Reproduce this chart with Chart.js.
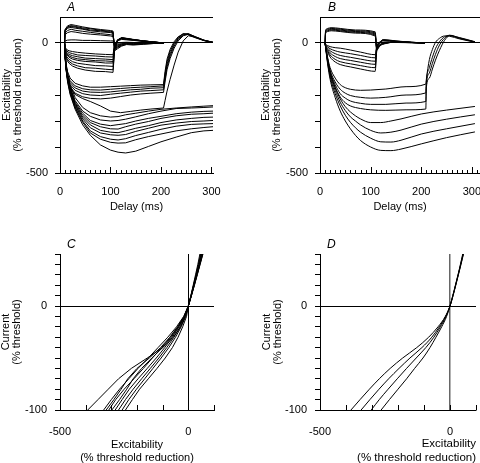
<!DOCTYPE html>
<html>
<head>
<meta charset="utf-8">
<script src="https://cdn.jsdelivr.net/npm/chart.js@4.4.1/dist/chart.umd.min.js"></script>
<style>
  body { margin: 0; background: #fff; width: 480px; height: 463px; overflow: hidden; position: relative; }
  canvas { position: absolute; }
</style>
</head>
<body>
<canvas id="chartA" width="240" height="225" style="left:0;top:0"></canvas>
<canvas id="chartB" width="240" height="225" style="left:240px;top:0"></canvas>
<canvas id="chartC" width="240" height="230" style="left:0;top:237px"></canvas>
<canvas id="chartD" width="240" height="230" style="left:240px;top:237px"></canvas>
<script>
// tick values
const delayTicksA = [0, 10, 20, 30, 40, 50, 60, 70, 80, 90, 100, 110, 120, 130, 140, 150, 160, 170, 180, 190, 200, 210, 220, 230, 240, 250, 260, 270, 280, 290, 300];
const delayTicksB = [0, 10, 20, 30, 40, 50, 60, 70, 80, 90, 100, 110, 120, 130, 140, 150, 160, 170, 180, 190, 200, 210, 220, 230, 240, 250, 260, 270, 280, 290, 300, 310];
const delayLabels = [0, 100, 200, 300];
const excTicks = [-500, -400, -300, -200, -100, 0, 100];
const excLabels = [-500, 0];
const excitTicks = [-500, -400, -300, -200, -100, 0, 100];
const excitLabels = [-500, 0];
const currentTicks = [-100, -90, -80, -70, -60, -50, -40, -30, -20, -10, 0, 10, 20, 30, 40, 50];
const currentLabels = [-100, 0];

// A: recorded threshold electrotonus (delay ms, % threshold reduction)
const aTimeDep = [9, 10, 15, 22, 30, 45, 60, 80, 100, 105, 108, 114, 122, 132, 145, 165, 185, 206];
const aDep1 = [0, 52, 66, 71, 68, 62, 57, 52, 48, 46, -30, -22, -12, -6, -8, -5, -2, 0];
const aDep2 = [0, 50, 62, 67, 64, 58, 55, 49, 45, 43, -26, -18, -10, -4, -6, -4, -2, 0];
const aDep3 = [0, 48, 60, 64, 61, 55, 50, 47, 42, 40, -22, -15, -8, -3, -5, -3, -1, 0];
const aDep4 = [0, 45, 57, 60, 57, 53, 47, 43, 40, 37, -18, -12, -6, -2, -4, -2, -1, 0];
const aDep5 = [0, 38, 48, 53, 49, 45, 41, 36, 32, 30, -15, -9, -4, 0, -2, -1, 0, 0];
const aDep6 = [0, 32, 40, 44, 42, 37, 34, 31, 27, 25, -12, -6, -2, 2, 0, 0, 0, 0];
const aDep7 = [0, 8, 11, 12, 12, 10, 10, 9, 8, 8, -4, -1, 2, 3, 2, 1, 0, 0];

const aTimeHyp = [9, 10, 13, 18, 25, 35, 50, 70, 90, 105, 108, 114, 122, 132, 145, 165, 185, 206];
const aHyp1 = [0, -15, -25, -30, -33, -36, -39, -42, -44, -45, -8, 8, 14, 12, 10, 6, 3, 0];
const aHyp2 = [0, -18, -30, -37, -41, -46, -48, -50, -53, -54, -10, 10, 16, 14, 11, 7, 3, 0];
const aHyp3 = [0, -22, -36, -44, -49, -53, -58, -60, -62, -64, -13, 11, 17, 15, 12, 7, 3, 0];
const aHyp4 = [0, -25, -40, -50, -56, -61, -64, -68, -69, -71, -16, 12, 18, 16, 12, 8, 4, 0];
const aHyp5 = [0, -28, -45, -55, -62, -67, -71, -73, -77, -77, -19, 12, 19, 16, 13, 8, 4, 0];
const aHyp6 = [0, -32, -52, -63, -72, -78, -82, -87, -88, -90, -24, 12, 20, 17, 13, 8, 4, 0];
const aHyp7 = [0, -36, -58, -71, -81, -88, -95, -97, -101, -103, -28, 11, 20, 17, 13, 8, 4, 0];
const aHyp8 = [0, -40, -64, -78, -89, -97, -104, -109, -110, -113, -32, 10, 21, 18, 14, 8, 4, 0];

const aTime200 = [9, 10, 12, 15, 20, 30, 45, 60, 80, 100, 120, 140, 160, 180, 205, 208, 212, 218, 226, 234, 244, 254, 268, 285, 303];
const a200_1 = [0, -40, -80, -110, -135, -155, -165, -170, -170, -168, -166, -164, -162, -161, -160, -110, -62, -25, 5, 24, 35, 32, 20, 9, 2];
const a200_2 = [0, -45, -88, -120, -145, -165, -176, -180, -181, -178, -175, -172, -170, -168, -165, -120, -72, -33, 0, 21, 36, 34, 22, 10, 3];
const a200_3 = [0, -48, -92, -125, -152, -173, -185, -189, -190, -188, -184, -180, -178, -174, -172, -130, -82, -42, -6, 17, 33, 36, 24, 11, 3];
const a200_4 = [0, -50, -95, -130, -160, -182, -195, -200, -202, -197, -193, -189, -185, -183, -180, -140, -92, -50, -12, 14, 30, 35, 24, 11, 2];
const a200_5 = [0, -52, -100, -137, -168, -193, -207, -213, -215, -212, -206, -200, -196, -193, -190, -150, -102, -60, -20, 8, 28, 33, 23, 10, 2];
const a200_6 = [0, -55, -105, -140, -172, -198, -214, -225, -242, -262, -268, -263, -258, -254, -250, -222, -185, -140, -85, -35, 8, 28, 22, 10, 2];

const aTime300 = [9, 10, 12, 15, 20, 30, 45, 60, 80, 100, 115, 130, 150, 175, 200, 230, 260, 285, 303];
const a300_1 = [0, -40, -80, -120, -160, -210, -248, -268, -280, -285, -283, -276, -270, -262, -255, -250, -246, -243, -241];
const a300_2 = [0, -42, -84, -126, -168, -222, -262, -282, -296, -300, -298, -293, -284, -272, -262, -252, -250, -248, -246];
const a300_3 = [0, -43, -86, -128, -172, -228, -270, -298, -312, -318, -314, -310, -300, -290, -282, -272, -266, -263, -262];
const a300_4 = [0, -44, -88, -132, -176, -232, -278, -306, -322, -330, -331, -322, -312, -302, -290, -280, -274, -272, -270];
const a300_5 = [0, -45, -90, -135, -180, -236, -285, -315, -336, -343, -345, -338, -328, -318, -306, -296, -290, -286, -285];
const a300_6 = [0, -46, -92, -138, -184, -240, -292, -326, -346, -353, -355, -352, -340, -328, -316, -308, -302, -300, -298];
const a300_7 = [0, -47, -94, -140, -188, -245, -300, -338, -360, -370, -373, -368, -356, -344, -332, -320, -313, -311, -310];
const a300_8 = [0, -48, -96, -145, -192, -250, -305, -346, -370, -382, -385, -384, -372, -360, -350, -338, -330, -325, -322];
const a300_9 = [0, -50, -100, -150, -198, -255, -315, -355, -392, -412, -420, -423, -416, -398, -380, -362, -345, -338, -336];

// B: model threshold electrotonus
const bTimeDep = [10, 11, 15, 22, 40, 70, 109, 112, 118, 130, 150, 180, 207];
const bDep1 = [0, 48, 56, 59, 56, 50, 43, -28, -12, -2, 4, 2, 0];
const bDep2 = [0, 45, 53, 56, 53, 47, 39, -25, -10, -1, 4, 2, 0];
const bDep3 = [0, 42, 50, 53, 50, 44, 35, -22, -8, 0, 3, 2, 0];
const bDep4 = [0, 39, 47, 50, 47, 41, 31, -19, -7, 1, 3, 1, 0];
const bDep5 = [0, 36, 44, 47, 44, 38, 27, -16, -6, 1, 2, 1, 0];

const bTimeHyp = [10, 12, 15, 20, 30, 40, 60, 80, 109, 112, 118, 125, 150, 180, 207];
const bHyp1 = [0, -7, -10, -14, -18, -20, -27, -35, -45, -12, 4, 8, 5, 2, 0];
const bHyp2 = [0, -10, -15, -22, -30, -35, -41, -48, -57, -16, 3, 9, 6, 2, 0];
const bHyp3 = [0, -13, -20, -30, -41, -48, -55, -62, -70, -20, 2, 10, 6, 2, 0];
const bHyp4 = [0, -16, -25, -38, -52, -60, -67, -74, -82, -24, 1, 11, 7, 3, 0];
const bHyp5 = [0, -19, -30, -46, -63, -72, -80, -87, -95, -28, 0, 12, 7, 3, 0];
const bHyp6 = [0, -22, -35, -54, -73, -83, -92, -100, -109, -32, -1, 13, 8, 3, 0];

const bTime200 = [10, 15, 20, 30, 40, 50, 60, 80, 100, 130, 170, 209, 210, 216, 222, 228, 236, 246, 256, 275, 306];
const b200_1 = [0, -55, -95, -135, -160, -172, -178, -182, -181, -177, -168, -158, -140, -64, -25, 2, 18, 27, 26, 16, 3];
const b200_2 = [0, -60, -105, -150, -178, -193, -202, -209, -212, -209, -200, -192, -150, -95, -55, -22, 5, 24, 29, 18, 4];
const b200_3 = [0, -62, -110, -160, -195, -212, -223, -232, -236, -236, -231, -225, -160, -115, -78, -44, -8, 18, 30, 20, 4];
const b200_4 = [0, -64, -113, -170, -208, -230, -242, -252, -257, -259, -257, -254, -172, -135, -100, -66, -28, 10, 28, 21, 5];

const bTime300 = [10, 15, 20, 30, 40, 50, 60, 70, 80, 100, 120, 140, 160, 200, 250, 306];
const b300_1 = [0, -65, -115, -172, -215, -245, -265, -280, -292, -306, -306, -300, -292, -273, -258, -244];
const b300_2 = [0, -70, -122, -182, -228, -260, -284, -300, -315, -336, -346, -343, -335, -312, -293, -276];
const b300_3 = [0, -75, -130, -195, -242, -278, -305, -326, -343, -366, -380, -381, -374, -350, -330, -310];
const b300_4 = [0, -80, -140, -210, -262, -300, -330, -355, -375, -400, -413, -414, -408, -388, -364, -342];

// C: recorded current-threshold (excitability at each current level)
const currentLevels = [-100, -90, -80, -70, -60, -50, -40, -30, -20, -10, 0, 10, 20, 30, 40, 50];
const cExc1 = [-392, -352, -312, -272, -222, -160, -100, -58, -30, -12, 0, 10, 19, 28, 37, 45];
const cExc2 = [-330, -300, -268, -232, -196, -156, -118, -80, -46, -18, 0, 10, 20, 30, 39, 48];
const cExc3 = [-320, -290, -262, -236, -200, -152, -108, -72, -42, -17, 0, 11, 21, 31, 41, 50];
const cExc4 = [-310, -283, -250, -212, -175, -140, -104, -70, -40, -16, 0, 11, 21, 31, 41, 50];
const cExc5 = [-298, -268, -240, -215, -182, -142, -100, -66, -38, -15, 0, 11, 22, 32, 43, 52];
const cExc6 = [-285, -258, -230, -196, -160, -125, -92, -62, -36, -14, 0, 11, 22, 33, 44, 53];
const cExc7 = [-272, -245, -215, -182, -148, -115, -84, -56, -32, -12, 0, 12, 23, 34, 45, 55];
const cExc8 = [-258, -232, -202, -170, -138, -106, -76, -50, -28, -10, 0, 12, 23, 34, 45, 56];
const cExc9 = [-245, -218, -190, -156, -122, -90, -62, -40, -22, -7, 0, 12, 24, 35, 46, 57];

// D: model current-threshold
const dExc1 = [-381, -346, -310, -272, -230, -182, -128, -82, -46, -18, 0, 11, 21, 31, 40, 49];
const dExc2 = [-342, -308, -273, -236, -196, -154, -108, -70, -41, -17, 0, 11, 21, 31, 41, 50];
const dExc3 = [-303, -272, -238, -203, -167, -130, -93, -62, -37, -15, 0, 11, 22, 32, 42, 51];
const dExc4 = [-265, -233, -200, -167, -136, -104, -77, -54, -32, -13, 0, 12, 22, 32, 42, 52];

Chart.defaults.font.family = '"Liberation Sans", Arial, Helvetica, sans-serif';
Chart.defaults.font.size = 11;
Chart.defaults.color = '#000';

const CLEAR = 'rgba(0,0,0,0)';

// tick marks pointing into the plot along the x axis
const inTicks = {
  id: 'inTicks',
  afterDraw(chart, args, opts) {
    const sx = chart.scales.x, area = chart.chartArea, ctx = chart.ctx;
    ctx.save();
    ctx.strokeStyle = '#000';
    ctx.lineWidth = 1;
    sx.ticks.forEach(t => {
      const px = Math.round(sx.getPixelForValue(t.value)) + 0.5;
      const len = t.value % opts.major === 0 ? opts.majorLen : opts.minorLen;
      ctx.beginPath();
      ctx.moveTo(px, area.bottom);
      ctx.lineTo(px, area.bottom - len);
      ctx.stroke();
    });
    ctx.restore();
  }
};

const panelLetter = {
  id: 'panelLetter',
  afterDraw(chart, args, opts) {
    const ctx = chart.ctx;
    ctx.save();
    ctx.font = 'italic 12px "Liberation Sans", Arial, sans-serif';
    ctx.fillStyle = '#000';
    ctx.textBaseline = 'middle';
    ctx.fillText(opts.text, opts.x, opts.y);
    ctx.restore();
  }
};

function trace(xs, ys, smooth) {
  return {
    data: xs.map((x, i) => ({ x: x, y: ys[i] })),
    showLine: true,
    borderColor: '#000',
    borderWidth: 1,
    pointRadius: 0,
    fill: false,
    tension: 0,
    cubicInterpolationMode: smooth ? 'monotone' : 'default'
  };
}

function ivTrace(exc, smooth) {
  return trace(exc, currentLevels, smooth);
}

function panel(id, o) {
  return new Chart(document.getElementById(id), {
    type: 'scatter',
    data: { datasets: o.datasets },
    plugins: [inTicks, panelLetter],
    options: {
      responsive: false,
      animation: false,
      events: [],
      layout: { padding: o.padding },
      plugins: {
        legend: { display: false },
        tooltip: { enabled: false },
        inTicks: { major: o.major, majorLen: o.majorLen, minorLen: o.minorLen },
        panelLetter: { text: o.letter, x: o.letterX, y: o.letterY }
      },
      scales: {
        x: {
          type: 'linear',
          min: o.xMin,
          max: o.xMax,
          afterBuildTicks: s => { s.ticks = o.xTicks.map(v => ({ value: v })); },
          afterFit: s => {
            s.height = o.xAxisHeight;
            s.paddingLeft = 0; s.paddingRight = 0; s.paddingTop = 0; s.paddingBottom = 0;
          },
          ticks: {
            autoSkip: false,
            maxRotation: 0,
            padding: o.xTickPad,
            callback: v => o.xLabels.includes(v) ? String(v) : ''
          },
          grid: {
            display: o.xGridAt.length > 0,
            drawTicks: false,
            color: c => (c.tick && o.xGridAt.includes(c.tick.value)) ? o.xGridColor : CLEAR,
            lineWidth: o.xGridWidth
          },
          border: { color: '#000', width: 1 },
          title: {
            display: true,
            text: o.xTitle,
            align: o.xTitleAlign,
            padding: { top: 0, bottom: o.xTitlePad },
            font: { size: o.xTitleSize, lineHeight: 1.2 }
          }
        },
        y: {
          type: 'linear',
          min: o.yMin,
          max: o.yMax,
          afterBuildTicks: s => { s.ticks = o.yTicks.map(v => ({ value: v })); },
          afterFit: s => {
            s.width = o.yAxisWidth;
            s.paddingLeft = 0; s.paddingRight = 0; s.paddingTop = 0; s.paddingBottom = 0;
          },
          ticks: {
            autoSkip: false,
            padding: o.yTickPad,
            callback: v => o.yLabels.includes(v) ? String(v) : ''
          },
          grid: {
            drawTicks: true,
            tickLength: 5,
            tickWidth: 1,
            color: c => (c.tick && o.yGridAt.includes(c.tick.value)) ? '#000' : CLEAR,
            tickColor: c => (c.tick && c.tick.value === o.yNoTick) ? CLEAR : '#000',
            lineWidth: 1
          },
          border: { color: '#000', width: 1 },
          title: {
            display: true,
            text: o.yTitle,
            padding: { top: o.yTitlePad, bottom: 0 },
            font: { size: 11, lineHeight: 1.05 }
          }
        }
      }
    }
  });
}

const teTitle = ['Excitability', '(% threshold reduction)'];

window.onload = function () {
  panel('chartA', {
    datasets: [
      trace(aTimeDep, aDep1), trace(aTimeDep, aDep2), trace(aTimeDep, aDep3), trace(aTimeDep, aDep4),
      trace(aTimeDep, aDep5), trace(aTimeDep, aDep6), trace(aTimeDep, aDep7),
      trace(aTimeHyp, aHyp1), trace(aTimeHyp, aHyp2), trace(aTimeHyp, aHyp3), trace(aTimeHyp, aHyp4),
      trace(aTimeHyp, aHyp5), trace(aTimeHyp, aHyp6), trace(aTimeHyp, aHyp7), trace(aTimeHyp, aHyp8),
      trace(aTime200, a200_1), trace(aTime200, a200_2), trace(aTime200, a200_3),
      trace(aTime200, a200_4), trace(aTime200, a200_5), trace(aTime200, a200_6),
      trace(aTime300, a300_1), trace(aTime300, a300_2), trace(aTime300, a300_3),
      trace(aTime300, a300_4), trace(aTime300, a300_5), trace(aTime300, a300_6),
      trace(aTime300, a300_7), trace(aTime300, a300_8), trace(aTime300, a300_9)
    ],
    padding: { top: 17, right: 27, left: 0, bottom: 0 },
    xMin: 0, xMax: 303, xTicks: delayTicksA, xLabels: delayLabels,
    xAxisHeight: 52, xTickPad: 12, xTitle: 'Delay (ms)', xTitlePad: 11, xTitleAlign: 'center', xTitleSize: 11,
    xGridAt: [], xGridColor: '#000', xGridWidth: 1,
    yMin: -500, yMax: 100, yTicks: excTicks, yLabels: excLabels, yGridAt: [0, 100], yNoTick: 100,
    yAxisWidth: 60, yTickPad: 7, yTitle: teTitle, yTitlePad: 1,
    major: 100, majorLen: 6, minorLen: 3,
    letter: 'A', letterX: 67, letterY: 8
  });

  panel('chartB', {
    datasets: [
      trace(bTimeDep, bDep1, true), trace(bTimeDep, bDep2, true), trace(bTimeDep, bDep3, true),
      trace(bTimeDep, bDep4, true), trace(bTimeDep, bDep5, true),
      trace(bTimeHyp, bHyp1, true), trace(bTimeHyp, bHyp2, true), trace(bTimeHyp, bHyp3, true),
      trace(bTimeHyp, bHyp4, true), trace(bTimeHyp, bHyp5, true), trace(bTimeHyp, bHyp6, true),
      trace(bTime200, b200_1, true), trace(bTime200, b200_2, true),
      trace(bTime200, b200_3, true), trace(bTime200, b200_4, true),
      trace(bTime300, b300_1, true), trace(bTime300, b300_2, true),
      trace(bTime300, b300_3, true), trace(bTime300, b300_4, true)
    ],
    padding: { top: 17, right: 0, left: 0, bottom: 0 },
    xMin: 0, xMax: 316, xTicks: delayTicksB, xLabels: delayLabels,
    xAxisHeight: 52, xTickPad: 12, xTitle: 'Delay (ms)', xTitlePad: 11, xTitleAlign: 'center', xTitleSize: 11,
    xGridAt: [], xGridColor: '#000', xGridWidth: 1,
    yMin: -500, yMax: 100, yTicks: excTicks, yLabels: excLabels, yGridAt: [0, 100], yNoTick: 100,
    yAxisWidth: 80, yTickPad: 7, yTitle: teTitle, yTitlePad: 20,
    major: 100, majorLen: 6, minorLen: 3,
    letter: 'B', letterX: 88, letterY: 8
  });

  panel('chartC', {
    datasets: [
      ivTrace(cExc1), ivTrace(cExc2), ivTrace(cExc3), ivTrace(cExc4), ivTrace(cExc5),
      ivTrace(cExc6), ivTrace(cExc7), ivTrace(cExc8), ivTrace(cExc9)
    ],
    padding: { top: 17, right: 26, left: 0, bottom: 0 },
    xMin: -500, xMax: 100, xTicks: excitTicks, xLabels: excitLabels,
    xAxisHeight: 57, xTickPad: 15, xTitle: teTitle, xTitlePad: 2, xTitleAlign: 'center', xTitleSize: 11,
    xGridAt: [0], xGridColor: '#000', xGridWidth: 1,
    yMin: -100, yMax: 50, yTicks: currentTicks, yLabels: currentLabels, yGridAt: [0], yNoTick: null,
    yAxisWidth: 60, yTickPad: 8, yTitle: ['Current', '(% threshold)'], yTitlePad: 0,
    major: 100, majorLen: 5, minorLen: 5,
    letter: 'C', letterX: 67, letterY: 8
  });

  panel('chartD', {
    datasets: [
      ivTrace(dExc1, true), ivTrace(dExc2, true), ivTrace(dExc3, true), ivTrace(dExc4, true)
    ],
    padding: { top: 17, right: 4, left: 0, bottom: 0 },
    xMin: -500, xMax: 100, xTicks: excitTicks, xLabels: excitLabels,
    xAxisHeight: 57, xTickPad: 15, xTitle: teTitle, xTitlePad: 2, xTitleAlign: 'end', xTitleSize: 11.5,
    xGridAt: [0], xGridColor: '#666', xGridWidth: 1.5,
    yMin: -100, yMax: 50, yTicks: currentTicks, yLabels: currentLabels, yGridAt: [0], yNoTick: null,
    yAxisWidth: 80, yTickPad: 8, yTitle: ['Current', '(% threshold)'], yTitlePad: 21,
    major: 100, majorLen: 5, minorLen: 5,
    letter: 'D', letterX: 87, letterY: 8
  });
};
</script>
</body>
</html>
